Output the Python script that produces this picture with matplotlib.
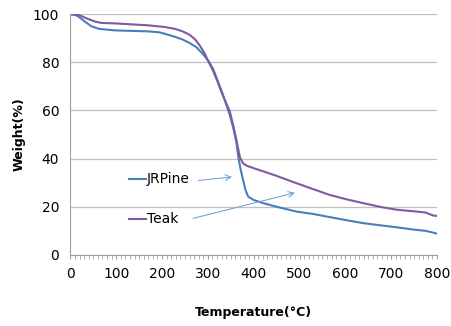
#!/usr/bin/env python3
"""
TGA curves: weight loss of JRPine and Teak vs temperature.
"""
import matplotlib
matplotlib.use('Agg')
import matplotlib.pyplot as plt
from matplotlib.ticker import MultipleLocator

# Temperature (C) and weight (%)
pine_temp = [0, 15, 31, 45, 61, 80, 98, 134, 170, 194, 206, 229, 245, 260, 275,
             290, 302, 312, 320, 330, 340, 348, 355, 362, 367, 372, 377, 382, 388,
             400, 421, 450, 493, 530, 566, 600, 639, 680, 711, 750, 775, 791, 800]
pine_weight = [100, 99.3, 97.0, 95.0, 93.9, 93.5, 93.2, 93.0, 92.8, 92.4, 91.8, 90.5,
               89.4, 88.0, 86.2, 83.2, 80.3, 77.0, 73.0, 68.0, 62.5, 58.0, 53.0, 47.0,
               40.0, 35.0, 31.0, 27.0, 24.2, 22.8, 21.5, 20.0, 18.0, 17.0, 15.7, 14.5,
               13.2, 12.2, 11.5, 10.5, 10.0, 9.3, 8.8]

teak_temp = [0, 20, 38, 55, 68, 98, 134, 170, 206, 229, 245, 260, 272, 282, 292,
             300, 310, 320, 330, 340, 348, 355, 362, 370, 377, 384, 400, 421, 450,
             493, 530, 566, 600, 639, 680, 711, 755, 775, 791, 800]
teak_weight = [100, 99.5, 98.0, 96.8, 96.3, 96.1, 95.7, 95.3, 94.6, 93.8, 92.8, 91.4,
               89.5, 87.0, 84.0, 80.8, 77.0, 72.5, 67.5, 63.0, 59.5, 54.0, 48.0, 40.5,
               38.0, 37.1, 36.0, 34.7, 32.8, 29.8, 27.3, 24.9, 23.2, 21.5, 19.8, 18.8,
               18.0, 17.6, 16.4, 16.2]

x_ticks = [0, 100, 200, 300, 400, 500, 600, 700, 800]
y_ticks = [0, 20, 40, 60, 80, 100]

pine_color = '#4a7ebb'
teak_color = '#7e5ba0'

fig = plt.figure(figsize=(4.51, 3.26), dpi=100)
ax = fig.add_axes([0.156, 0.218, 0.813, 0.739])

ax.plot(pine_temp, pine_weight, color=pine_color, linewidth=1.5)
ax.plot(teak_temp, teak_weight, color=teak_color, linewidth=1.5)

ax.set_xlim(0, 800)
ax.set_ylim(0, 100)
ax.set_xticks(x_ticks)
ax.set_yticks(y_ticks)
ax.xaxis.set_minor_locator(MultipleLocator(10))
ax.tick_params(axis='x', which='both', direction='out', length=3, color='#a0a0a0',
               labelsize=10, pad=6)
ax.tick_params(axis='y', which='both', length=0, labelsize=10, pad=8)
ax.grid(axis='y', color='#c0c0c0', linewidth=0.9)
ax.set_axisbelow(True)
for side in ['top', 'right']:
    ax.spines[side].set_visible(False)
for side in ['left', 'bottom']:
    ax.spines[side].set_color('#a0a0a0')

ax.set_xlabel('Temperature(°C)', fontsize=9, fontweight='bold', labelpad=18)
ax.set_ylabel('Weight(%)', fontsize=9, fontweight='bold', labelpad=5)

# In-plot legend labels with arrows
ax.plot([128, 165], [31.5, 31.5], color=pine_color, linewidth=1.5)
ax.text(167, 31.5, 'JRPine', fontsize=10, va='center', ha='left')
ax.plot([128, 165], [14.9, 14.9], color=teak_color, linewidth=1.5)
ax.text(167, 14.9, 'Teak', fontsize=10, va='center', ha='left')
ax.annotate('', xy=(359, 32.5), xytext=(273, 30.8),
            arrowprops=dict(arrowstyle='->', color='#7ba3d6', linewidth=0.8))
ax.annotate('', xy=(496, 26.1), xytext=(262, 14.9),
            arrowprops=dict(arrowstyle='->', color='#7ba3d6', linewidth=0.8))

plt.savefig('out.png', dpi=100)
plt.close()
